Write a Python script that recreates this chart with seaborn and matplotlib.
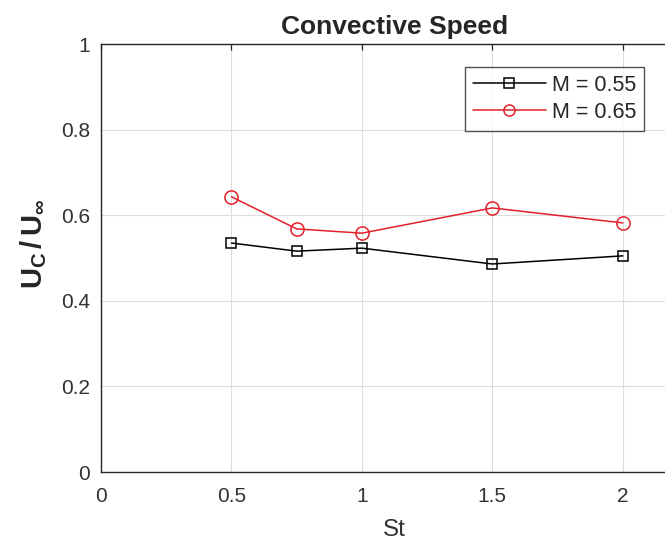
import matplotlib
matplotlib.use("Agg")
import matplotlib.pyplot as plt
import seaborn as sns
import pandas as pd

st = [0.5, 0.75, 1.0, 1.5, 2.0]
uc_m055 = [0.535, 0.516, 0.523, 0.486, 0.505]
uc_m065 = [0.643, 0.568, 0.558, 0.617, 0.582]
labels = ["M = 0.55", "M = 0.65"]
xticks = [0, 0.5, 1, 1.5, 2]
yticks = [0, 0.2, 0.4, 0.6, 0.8, 1]

sns.set_style("white")
plt.rcParams['font.family'] = ['Liberation Sans', 'DejaVu Sans']
plt.rcParams['mathtext.fontset'] = 'custom'
plt.rcParams['mathtext.rm'] = 'Liberation Sans'
plt.rcParams['mathtext.bf'] = 'Liberation Sans:bold'
plt.rcParams['mathtext.it'] = 'Liberation Sans:italic'

df1 = pd.DataFrame({"St": st, "Uc": uc_m055})
df2 = pd.DataFrame({"St": st, "Uc": uc_m065})

fig = plt.figure(figsize=(6.65, 5.46), dpi=100)
ax = fig.add_axes([101/665, 74/546, 587/665, 428/546])

red = "#e3202a"
sns.lineplot(data=df1, x="St", y="Uc", ax=ax, color="black", marker="s",
             markersize=7.5, markerfacecolor="none", markeredgecolor="black",
             markeredgewidth=1.1, linewidth=1.1, label=labels[0])
sns.lineplot(data=df2, x="St", y="Uc", ax=ax, color=red, marker="o",
             markersize=9.5, markerfacecolor="none", markeredgecolor=red,
             markeredgewidth=1.1, linewidth=1.1, label=labels[1])

ax.set_xlim(0, 2.25)
ax.set_ylim(0, 1)
ax.set_xticks(xticks)
ax.set_xticklabels(["0", "0.5", "1", "1.5", "2"])
ax.set_yticks(yticks)
ax.set_yticklabels(["0", "0.2", "0.4", "0.6", "0.8", "1"])
ax.grid(True, color="#dcdcdc", linewidth=0.8)
ax.set_axisbelow(True)
for s in ax.spines.values():
    s.set_color("#262626")
    s.set_linewidth(1.0)
ax.tick_params(direction="in", length=4, width=0.9, colors="#262626",
               labelsize=15, top=True, right=True)
ax.tick_params(axis="x", pad=11)
ax.tick_params(axis="y", pad=8)
for lab in ax.get_xticklabels() + ax.get_yticklabels():
    lab.set_color("#333333")

ax.set_title("Convective Speed", fontsize=19, fontweight="bold", pad=7)
ax.set_xlabel("St", fontsize=17.5, color="#333333", labelpad=9)
ax.set_ylabel(r"$\mathbf{U_C\,/\,U_{\infty}}$", fontsize=21, color="#262626")
ax.yaxis.set_label_coords(-0.088, 0.533)

leg = ax.legend(loc="upper left", bbox_to_anchor=((465-101)/587, (546-67-74)/428),
                frameon=True, fancybox=False, edgecolor="#262626", fontsize=15.5,
                handlelength=3.4, handletextpad=0.3, borderpad=0.35,
                labelspacing=0.3, borderaxespad=0)
leg.get_frame().set_linewidth(1.0)
for h in leg.legend_handles:
    h.set_markersize(6.5 if h.get_marker() == "s" else 8)

fig.savefig("out.png", dpi=100)
